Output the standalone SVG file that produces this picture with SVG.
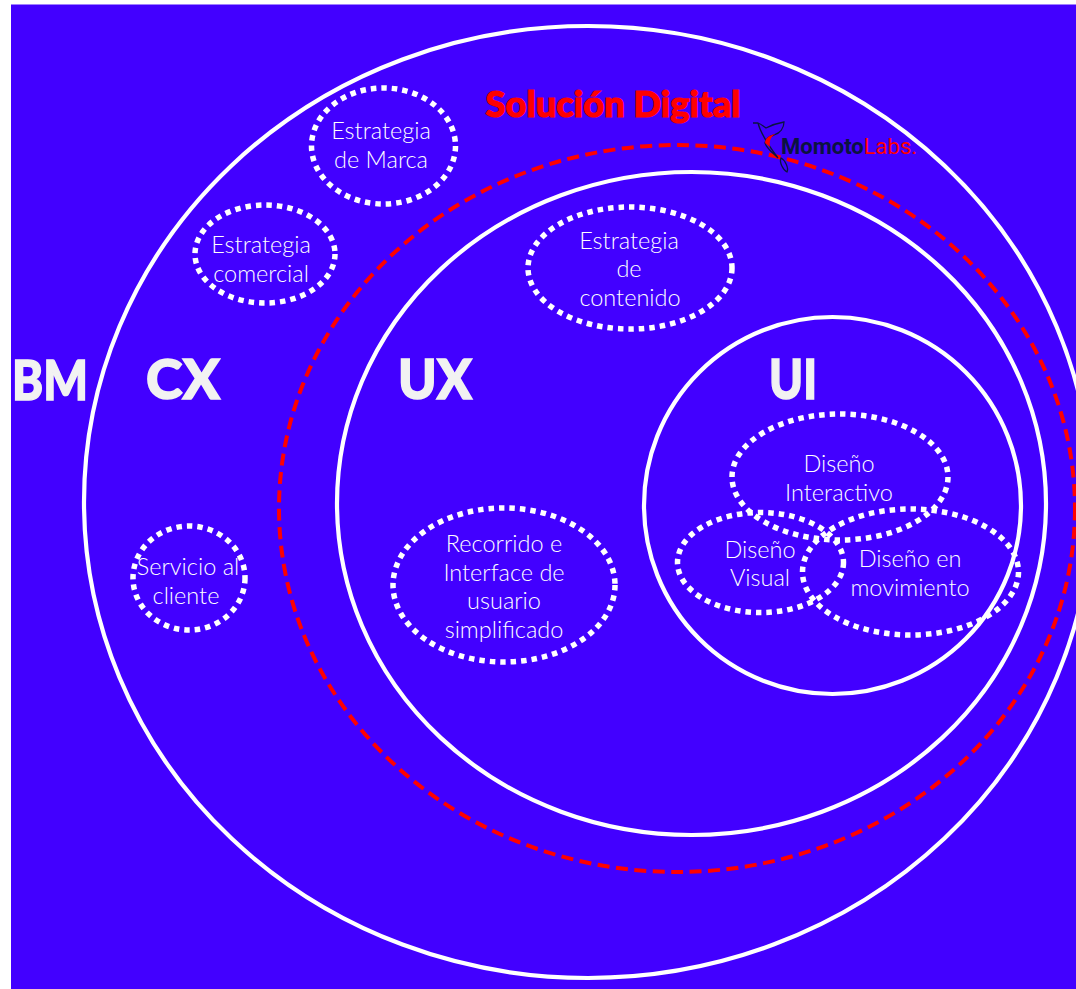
<svg xmlns="http://www.w3.org/2000/svg" width="1076" height="989" viewBox="0 0 1076 989">
<style>
.ring{fill:none;stroke:#fff;stroke-width:4.200}
.dash{fill:none;stroke:#ff0000;stroke-width:4;stroke-dasharray:12 6.500}
.dot{fill:none;stroke:#fff;stroke-width:5.500;stroke-dasharray:5.500 5}
.t{font-family:"Lato","Liberation Sans",sans-serif;font-size:23.500px;fill:#fff;text-anchor:middle;font-weight:300}
.h{font-family:"Lato","Liberation Sans",sans-serif;font-size:55px;font-weight:900;fill:#f2f2f2;stroke:#f2f2f2;stroke-width:1.500;text-anchor:middle}
.bird{fill:none;stroke:#0b1440;stroke-width:1.300}
</style>
<rect x="0" y="0" width="1076" height="989" fill="#fff"/>
<rect x="11" y="4.500" width="1065" height="984.500" fill="#4200ff"/>
<g id="connectors"></g>
<g id="bm"><ellipse class="ring" cx="588" cy="502" rx="504" ry="476"/><text class="h" x="50" y="400" textLength="76" lengthAdjust="spacingAndGlyphs">BM</text></g>
<g id="solucion"><ellipse class="dash" cx="677" cy="508.500" rx="398" ry="363.500"/><text x="613" y="117" font-family="Lato,'Liberation Sans',sans-serif" font-size="36" font-weight="900" fill="#ff0000" stroke="#ff0000" stroke-width="1.200" text-anchor="middle" textLength="255" lengthAdjust="spacingAndGlyphs">Solución Digital</text></g>
<g id="cx"><text class="h" x="183" y="399" textLength="74" lengthAdjust="spacingAndGlyphs">CX</text></g>
<g id="ux"><ellipse class="ring" cx="691.500" cy="503.500" rx="354.500" ry="331.500"/><text class="h" x="435" y="399" textLength="74" lengthAdjust="spacingAndGlyphs">UX</text></g>
<g id="ui"><circle class="ring" cx="832.500" cy="505.500" r="188.500"/><text class="h" x="793" y="399" textLength="48" lengthAdjust="spacingAndGlyphs">UI</text></g>
<g id="estrategia-marca"><ellipse class="dot" cx="383.500" cy="146" rx="72" ry="58"/><text class="t" x="381" y="139">Estrategia</text><text class="t" x="381" y="168">de Marca</text></g>
<g id="estrategia-comercial"><ellipse class="dot" cx="265" cy="254" rx="70" ry="49"/><text class="t" x="261" y="253">Estrategia</text><text class="t" x="261" y="282">comercial</text></g>
<g id="estrategia-contenido"><ellipse class="dot" cx="630" cy="268" rx="102" ry="61"/><text class="t" x="629" y="249">Estrategia</text><text class="t" x="629" y="277">de</text><text class="t" x="630" y="306">contenido</text></g>
<g id="servicio"><ellipse class="dot" cx="189" cy="578" rx="56" ry="52"/><text class="t" x="188" y="575">Servicio al</text><text class="t" x="186" y="604">cliente</text></g>
<g id="recorrido"><ellipse class="dot" cx="504" cy="585" rx="111" ry="77"/><text class="t" x="504" y="552">Recorrido e</text><text class="t" x="504" y="581">Interface de</text><text class="t" x="504" y="609">usuario</text><text class="t" x="504" y="638">simplificado</text></g>
<g id="interactivo"><ellipse class="dot" cx="840" cy="477" rx="108" ry="63"/><text class="t" x="839" y="472">Diseño</text><text class="t" x="839" y="501">Interactivo</text></g>
<g id="visual"><ellipse class="dot" cx="760.500" cy="562.500" rx="83" ry="50"/><text class="t" x="760" y="558">Diseño</text><text class="t" x="760" y="586">Visual</text></g>
<g id="movimiento"><ellipse class="dot" cx="910.500" cy="572" rx="108" ry="63"/><text class="t" x="910" y="567">Diseño en</text><text class="t" x="910" y="596">movimiento</text></g>
<g id="logo">
<path class="bird" d="M753 123 L758 123 C761 124 763 126 766 128 C772 125 778 123 784 122 C784 128 780 133 774 135 C770 136 766 139 765 143 C767 149 773 153 778 158 M758 123 C760 131 766 142 778 158"/>
<path class="bird" d="M781 158 C779 162 783 170 787 172 C789 168 785 160 781 158 Z"/>
<path d="M765 143 C765 138 770 135 775 134 C771 137 769 140 770 147 Z" fill="#ff0000"/>
<text x="781" y="154" font-family="Roboto,'Liberation Sans',sans-serif" font-size="22" font-weight="700" fill="#0b1440">Momoto<tspan fill="#ff0000" font-weight="400">Labs.</tspan></text>
</g>
</svg>
